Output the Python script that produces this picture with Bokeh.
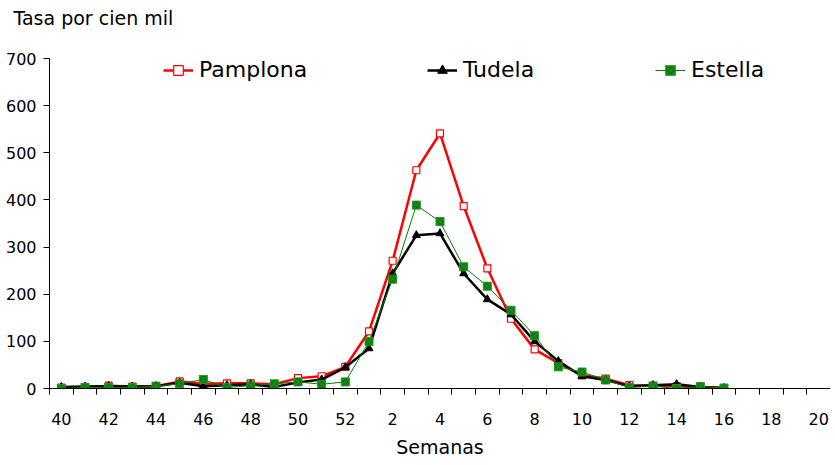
from bokeh.plotting import figure
from bokeh.models import Range1d, FixedTicker, Legend, LegendItem, Title
from bokeh.embed import file_html
from bokeh.resources import INLINE

# Weeks shown on the axis (season week 40 .. week 20 of next year)
weeks = [40, 41, 42, 43, 44, 45, 46, 47, 48, 49, 50, 51, 52] + list(range(1, 21))
# tick labels: every other week
label_weeks = [40, 42, 44, 46, 48, 50, 52, 2, 4, 6, 8, 10, 12, 14, 16, 18, 20]

pamplona = [2, 2, 6, 4, 5, 15, 10, 11, 11, 9, 22, 26, 46,
            121, 271, 463, 541, 387, 255, 148, 83, 54, 28, 21, 7, 6, 5, 3, 1]
tudela = [3, 4, 5, 4, 5, 12, 5, 7, 9, 3, 13, 19, 45,
          85, 244, 325, 329, 244, 189, 157, 100, 58, 26, 18, 5, 7, 9, 3, 1]
estella = [0, 2, 2, 2, 5, 10, 19, 2, 6, 10, 14, 9, 14,
           100, 232, 389, 354, 258, 217, 166, 112, 46, 35, 18, 2, 5, 0, 4, 1]

FONT = "DejaVu Sans"
W, H = 830, 460
FRAME_BOTTOM = 388

p = figure(width=W, height=H, output_backend="svg", toolbar_location=None,
           x_range=Range1d(-0.5, len(weeks) - 0.5), y_range=Range1d(0, 700),
           min_border_left=49, min_border_right=0, min_border_top=58,
           min_border_bottom=H - FRAME_BOTTOM)
p.outline_line_color = None
p.xgrid.grid_line_color = None
p.ygrid.grid_line_color = None
p.background_fill_color = "white"

xs = list(range(len(pamplona)))

r_p_line = p.line(xs, pamplona, line_color="#FF0000", line_width=2.5)
r_p_mk = p.scatter(xs, pamplona, marker="square", size=7, fill_color="white",
                   line_color="#FF0000", line_width=1.2)
r_t_line = p.line(xs, tudela, line_color="black", line_width=2.5)
r_t_mk = p.scatter(xs, tudela, marker="triangle", size=8, fill_color="black",
                   line_color="black")
r_e_line = p.line(xs, estella, line_color="#008000", line_width=1)
r_e_mk = p.scatter(xs, estella, marker="square_x", size=8, fill_color="#008000",
                   line_color="#2f8f2f", line_width=1)

# axes
xax = p.xaxis[0]
centers = [weeks.index(w) if w >= 40 else 13 + w - 1 for w in label_weeks]
xax.ticker = FixedTicker(ticks=centers, minor_ticks=[i - 0.5 for i in range(len(weeks) + 1)])
xax.major_label_overrides = {c: str(w) for c, w in zip(centers, label_weeks)}
xax.major_tick_line_color = None
xax.major_tick_out = 0
xax.major_tick_in = 0
xax.minor_tick_out = 6
xax.minor_tick_in = 0
xax.minor_tick_line_color = "black"
xax.axis_line_color = "black"
xax.major_label_standoff = 18
xax.major_label_text_font = FONT
xax.major_label_text_font_size = "16px"
xax.major_label_text_color = "black"
xax.axis_label = "Semanas"
xax.axis_label_text_font = FONT
xax.axis_label_text_font_size = "19px"
xax.axis_label_text_font_style = "normal"
xax.axis_label_text_color = "black"
xax.axis_label_standoff = 8

yax = p.yaxis[0]
yax.ticker = FixedTicker(ticks=[0, 100, 200, 300, 400, 500, 600, 700])
yax.major_tick_out = 6
yax.major_tick_in = 0
yax.minor_tick_line_color = None
yax.major_label_standoff = 7
yax.major_label_text_font = FONT
yax.major_label_text_font_size = "16px"
yax.major_label_text_color = "black"
yax.axis_line_color = "black"

# spacer panel next to the frame, then the y-axis caption above it
p.add_layout(Title(text=" ", standoff=27, text_font_size="1px"), "above")
p.add_layout(Title(text="Tasa por cien mil", align="left", offset=-36, standoff=0,
                   vertical_align="bottom",
                   text_font=FONT, text_font_size="19px", text_font_style="normal",
                   text_color="black"), "above")

# legends, one per series
for name, rs, xpos in [("Pamplona", [r_p_line, r_p_mk], 114),
                       ("Tudela", [r_t_line, r_t_mk], 378),
                       ("Estella", [r_e_line, r_e_mk], 606)]:
    lg = Legend(items=[LegendItem(label=name, renderers=rs)], location=(xpos, 306),
                padding=0, margin=0, border_line_color=None, background_fill_alpha=0,
                glyph_width=30, glyph_height=24, label_height=24, label_standoff=6,
                label_text_font=FONT, label_text_font_size="22px", label_text_color="black")
    p.add_layout(lg, "center")

open("out.html", "w").write(file_html(p, INLINE))
